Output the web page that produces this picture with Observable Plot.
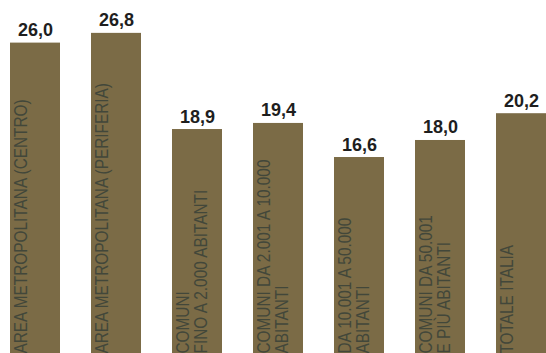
<!DOCTYPE html>
<html>
<head>
<meta charset="utf-8">
<script src="https://cdn.jsdelivr.net/npm/d3@7"></script>
<script src="https://cdn.jsdelivr.net/npm/@observablehq/plot@0.6"></script>
<style>
  html, body { margin: 0; padding: 0; background: #ffffff; }
  #chart svg { display: block; }
</style>
</head>
<body>
<div id="chart"></div>
<script>
const categories = ["centro", "periferia", "fino2000", "da2001", "da10001", "da50001", "totale"];
const labels = [
  "AREA METROPOLITANA (CENTRO)",
  "AREA METROPOLITANA (PERIFERIA)",
  "COMUNI\nFINO A 2.000 ABITANTI",
  "COMUNI DA 2.001 A 10.000\nABITANTI",
  "DA 10.001 A 50.000\nABITANTI",
  "COMUNI DA 50.001\nE PIÙ ABITANTI",
  "TOTALE ITALIA"
];
const values = [26.0, 26.8, 18.9, 19.4, 16.6, 18.0, 20.2];

const data = categories.map((c, i) => ({cat: c, label: labels[i], value: values[i]}));
const fmt = v => v.toFixed(1).replace(".", ",");

const chart = Plot.plot({
  width: 546,
  height: 353,
  marginTop: 0,
  marginBottom: 0,
  marginLeft: 0,
  marginRight: 0,
  style: {background: "#ffffff", overflow: "hidden"},
  x: {domain: categories, range: [8, 547], paddingInner: 0.386, paddingOuter: 0, axis: null},
  y: {domain: [0.5, 29.5], axis: null},
  marks: [
    Plot.barY(data, {x: "cat", y1: 0.5, y2: "value", fill: "#7b6b46"}),
    Plot.text(data, {
      x: "cat", y: "value", text: d => fmt(d.value),
      dy: -7, lineAnchor: "bottom", textAnchor: "middle",
      fontSize: 18, fontWeight: "bold", fill: "#1e1e1e",
      fontFamily: "'Liberation Sans', Arial, sans-serif"
    }),
    Plot.text(data, {
      x: "cat", frameAnchor: "bottom", text: "label",
      rotate: -90, textAnchor: "start", lineAnchor: "top",
      dx: -21, dy: 0, lineHeight: 0.95,
      fontSize: 19, fill: "#42473a",
      fontFamily: "'Liberation Sans', Arial, sans-serif"
    })
  ]
});
// condense the in-bar labels along their reading direction (narrow type)
const groups = chart.querySelectorAll('g[aria-label="text"]');
if (groups.length > 1) {
  groups[1].querySelectorAll("text").forEach(t => {
    const tr = t.getAttribute("transform") || "";
    t.setAttribute("transform", tr + " scale(0.81,1)");
  });
}
document.getElementById("chart").append(chart);
</script>
</body>
</html>
